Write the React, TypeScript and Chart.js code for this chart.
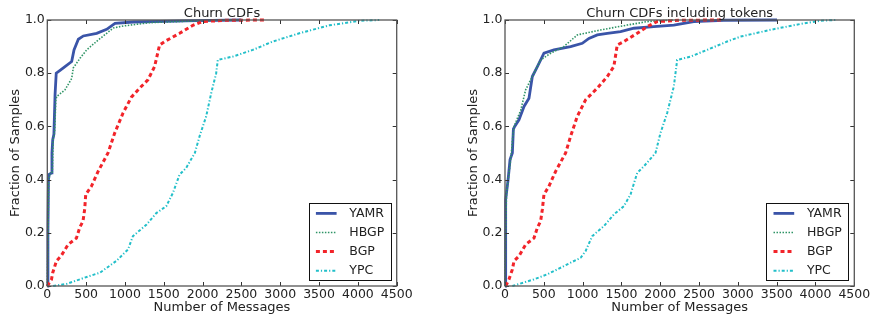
import React, { useEffect, useRef } from "react";
import { Chart, registerables } from "chart.js";

Chart.register(...registerables);

const SERIES_NAMES = ["YAMR", "HBGP", "BGP", "YPC"];
const X_TICKS = [0, 500, 1000, 1500, 2000, 2500, 3000, 3500, 4000, 4500];
const Y_TICKS = [0, 0.2, 0.4, 0.6, 0.8, 1.0];
const TITLES = ["Churn CDFs", "Churn CDFs including tokens"];
const X_TITLE = "Number of Messages";
const Y_TITLE = "Fraction of Samples";

// ---- Left chart: Churn CDFs ----
const churnYamrX = [0, 8, 15, 25, 55, 60, 70, 85, 100, 115, 160, 228, 314, 344, 400, 464, 636, 765, 872, 1108, 1925, 2500];
const churnYamrY = [0, 0.2, 0.4, 0.42, 0.425, 0.5, 0.55, 0.57, 0.72, 0.8, 0.81, 0.825, 0.844, 0.8875, 0.9275, 0.94, 0.95, 0.965, 0.9875, 0.9925, 0.9975, 1.0];
const churnHbgpX = [0, 10, 18, 35, 65, 75, 95, 110, 121, 228, 314, 335, 421, 507, 636, 765, 850, 979, 1322, 1751, 2180, 2500];
const churnHbgpY = [0, 0.2, 0.4, 0.42, 0.43, 0.55, 0.58, 0.7, 0.7125, 0.7375, 0.78, 0.82, 0.856, 0.8875, 0.92, 0.95, 0.97, 0.9775, 0.99, 0.995, 0.999, 1.0];
const churnBgpX = [0, 54, 70, 118, 182, 268, 375, 418, 460, 482, 495, 568, 653, 782, 868, 975, 1083, 1190, 1296, 1382, 1446, 1511, 1704, 1875, 2000, 2300, 2818];
const churnBgpY = [0, 0.025, 0.05, 0.094, 0.115, 0.156, 0.18, 0.22, 0.244, 0.29, 0.344, 0.375, 0.43, 0.5, 0.575, 0.65, 0.71, 0.744, 0.775, 0.825, 0.906, 0.919, 0.95, 0.98, 0.994, 0.999, 1.0];
const churnYpcX = [75, 250, 507, 678, 893, 975, 1039, 1103, 1275, 1404, 1532, 1618, 1704, 1789, 1900, 1961, 2046, 2111, 2175, 2196, 2389, 2646, 2903, 3246, 3632, 4018, 4275];
const churnYpcY = [0, 0.008, 0.034, 0.05, 0.095, 0.119, 0.137, 0.1875, 0.23, 0.274, 0.3, 0.35, 0.419, 0.444, 0.5, 0.5625, 0.6375, 0.725, 0.8, 0.85, 0.8625, 0.8875, 0.919, 0.95, 0.98, 0.997, 1.0];

// ---- Right chart: Churn CDFs including tokens ----
const tokYamrX = [0, 5, 12, 40, 65, 95, 108, 125, 180, 245, 309, 352, 417, 502, 631, 845, 996, 1081, 1189, 1318, 1489, 1660, 1917, 2175, 2432, 2818, 3505];
const tokYamrY = [0, 0.2, 0.325, 0.4, 0.475, 0.5, 0.59, 0.6, 0.625, 0.675, 0.706, 0.7875, 0.825, 0.875, 0.8875, 0.9, 0.9125, 0.931, 0.944, 0.95, 0.956, 0.969, 0.975, 0.981, 0.994, 0.999, 1.0];
const tokHbgpX = [0, 8, 20, 50, 75, 100, 116, 202, 266, 373, 459, 588, 717, 759, 931, 1231, 1574, 1832, 2175];
const tokHbgpY = [0, 0.2, 0.35, 0.42, 0.48, 0.56, 0.6, 0.66, 0.7375, 0.8, 0.85, 0.875, 0.894, 0.9, 0.944, 0.9625, 0.981, 0.994, 1.0];
const tokBgpX = [10, 51, 95, 116, 180, 266, 373, 417, 459, 481, 502, 566, 652, 781, 845, 931, 1038, 1189, 1318, 1402, 1446, 1531, 1703, 1832, 1960, 2260, 2800];
const tokBgpY = [0, 0.025, 0.0625, 0.094, 0.1125, 0.156, 0.18, 0.219, 0.244, 0.2875, 0.344, 0.375, 0.431, 0.5, 0.5625, 0.6375, 0.7, 0.744, 0.7875, 0.825, 0.906, 0.919, 0.95, 0.975, 0.994, 0.999, 1.0];
const tokYpcX = [95, 373, 545, 674, 845, 974, 1038, 1124, 1273, 1402, 1531, 1617, 1703, 1789, 1939, 2003, 2089, 2175, 2218, 2389, 2604, 2861, 3033, 3419, 3805, 4062, 4255];
const tokYpcY = [0, 0.025, 0.044, 0.0625, 0.0875, 0.106, 0.131, 0.1875, 0.225, 0.269, 0.3, 0.344, 0.425, 0.45, 0.5, 0.575, 0.65, 0.75, 0.85, 0.8625, 0.8875, 0.919, 0.9375, 0.963, 0.985, 0.997, 1.0];

const STYLES = [
  { color: "#3a54a8", width: 2.8, dash: [] as number[] },
  { color: "#2f9466", width: 1.6, dash: [1.5, 1.5] },
  { color: "#f2242a", width: 3, dash: [4, 3] },
  { color: "#22bfc9", width: 2, dash: [3, 2, 1.2, 2] },
];

const FONT = "'DejaVu Sans', sans-serif";

const zip = (xs: number[], ys: number[]) => xs.map((x, i) => ({ x, y: ys[i] }));

const decorPlugin = {
  id: "decor",
  afterDatasetsDraw(chart: any, _args: any, opts: any) {
    const { ctx, chartArea: a, scales } = chart;
    ctx.save();
    // inward ticks
    ctx.strokeStyle = "#333";
    ctx.lineWidth = 1;
    ctx.beginPath();
    X_TICKS.forEach((v) => {
      const px = Math.round(scales.x.getPixelForValue(v)) + 0.5;
      ctx.moveTo(px, a.bottom);
      ctx.lineTo(px, a.bottom - 4);
      ctx.moveTo(px, a.top);
      ctx.lineTo(px, a.top + 4);
    });
    Y_TICKS.forEach((v) => {
      const py = Math.round(scales.y.getPixelForValue(v)) + 0.5;
      ctx.moveTo(a.left, py);
      ctx.lineTo(a.left + 4, py);
      ctx.moveTo(a.right, py);
      ctx.lineTo(a.right - 4, py);
    });
    ctx.stroke();
    // frame
    ctx.strokeStyle = "#555";
    ctx.lineWidth = 1.3;
    ctx.strokeRect(a.left, a.top, a.right - a.left, a.bottom - a.top);
    // legend
    const bw = 81.5;
    const bh = 77.3;
    const bx = a.right - 6.6 - bw;
    const by = a.bottom - 6 - bh;
    ctx.fillStyle = "#fff";
    ctx.fillRect(bx, by, bw, bh);
    ctx.strokeStyle = "#111";
    ctx.lineWidth = 1;
    ctx.strokeRect(Math.round(bx) + 0.5, Math.round(by) + 0.5, Math.round(bw), Math.round(bh));
    ctx.font = `12.5px ${FONT}`;
    ctx.textBaseline = "middle";
    ctx.textAlign = "left";
    chart.data.datasets.forEach((ds: any, i: number) => {
      const cy = by + 10.7 + i * 19.1;
      ctx.save();
      ctx.strokeStyle = ds.borderColor;
      ctx.lineWidth = ds.borderWidth;
      ctx.setLineDash(ds.borderDash || []);
      ctx.beginPath();
      ctx.moveTo(bx + 7.3, cy);
      ctx.lineTo(bx + 28, cy);
      ctx.stroke();
      ctx.restore();
      ctx.fillStyle = "#222";
      ctx.fillText(ds.label, bx + 40.7, cy + 0.5);
    });
    // title
    ctx.fillStyle = "#222";
    ctx.font = `13px ${FONT}`;
    ctx.textAlign = "center";
    ctx.textBaseline = "alphabetic";
    ctx.fillText(opts.title, (a.left + a.right) / 2, 16.7);
    ctx.restore();
  },
};

type Series = { xs: number[]; ys: number[] }[];

function CdfChart({ title, series, width, padLeft, padRight, yWidth }: { title: string; series: Series; width: number; padLeft: number; padRight: number; yWidth: number }) {
  const ref = useRef<HTMLCanvasElement>(null);
  useEffect(() => {
    const chart = new Chart(ref.current as HTMLCanvasElement, {
      type: "line",
      data: {
        datasets: series.map((s, i) => ({
          label: SERIES_NAMES[i],
          data: zip(s.xs, s.ys),
          borderColor: STYLES[i].color,
          backgroundColor: STYLES[i].color,
          borderWidth: STYLES[i].width,
          borderDash: STYLES[i].dash,
          pointRadius: 0,
          tension: 0,
          fill: false,
          clip: false as any,
          order: 4 - i,
        })),
      },
      options: {
        animation: false,
        responsive: false,
        devicePixelRatio: 1,
        layout: { padding: { left: padLeft, right: padRight, top: 20, bottom: 0 } },
        plugins: {
          legend: { display: false },
          tooltip: { enabled: false },
          title: { display: false },
          decor: { title },
        } as any,
        scales: {
          x: {
            type: "linear",
            min: 0,
            max: 4500,
            grid: { display: false, drawTicks: false },
            border: { display: false },
            ticks: {
              stepSize: 500,
              padding: 1,
              color: "#222",
              font: { family: FONT, size: 12.5 },
              maxRotation: 0,
              autoSkip: false,
              callback: (v: any) => String(Math.round(Number(v))),
            },
            title: {
              display: true,
              text: X_TITLE,
              color: "#222",
              font: { family: FONT, size: 13 },
              padding: { top: 0, bottom: 4.6 },
            },
            afterFit: (s: any) => {
              s.height = 34;
            },
          },
          y: {
            type: "linear",
            min: 0,
            max: 1,
            grid: { display: false, drawTicks: false },
            border: { display: false },
            ticks: {
              stepSize: 0.2,
              padding: 2.5,
              color: "#222",
              font: { family: FONT, size: 12.5 },
              callback: (v: any) => Number(v).toFixed(1),
            },
            title: {
              display: true,
              text: Y_TITLE,
              color: "#222",
              font: { family: FONT, size: 13 },
              padding: { top: 7.7, bottom: 0 },
            },
            afterFit: (s: any) => {
              s.width = yWidth;
            },
          },
        },
      },
      plugins: [decorPlugin],
    });
    return () => chart.destroy();
  }, []);
  return (
    <div style={{ width, height: 320, position: "relative" }}>
      <canvas ref={ref} width={width} height={320} style={{ display: "block", width, height: 320 }} />
    </div>
  );
}

export default function App() {
  const left: Series = [
    { xs: churnYamrX, ys: churnYamrY },
    { xs: churnHbgpX, ys: churnHbgpY },
    { xs: churnBgpX, ys: churnBgpY },
    { xs: churnYpcX, ys: churnYpcY },
  ];
  const right: Series = [
    { xs: tokYamrX, ys: tokYamrY },
    { xs: tokHbgpX, ys: tokHbgpY },
    { xs: tokBgpX, ys: tokBgpY },
    { xs: tokYpcX, ys: tokYpcY },
  ];
  return (
    <div style={{ position: "absolute", left: 0, top: 0, width: 881, height: 320, display: "flex", background: "#fff" }}>
      <CdfChart title={TITLES[0]} series={left} width={440} padLeft={0} padRight={43.3} yWidth={47.3} />
      <CdfChart title={TITLES[1]} series={right} width={441} padLeft={18} padRight={26.7} yWidth={47} />
    </div>
  );
}
